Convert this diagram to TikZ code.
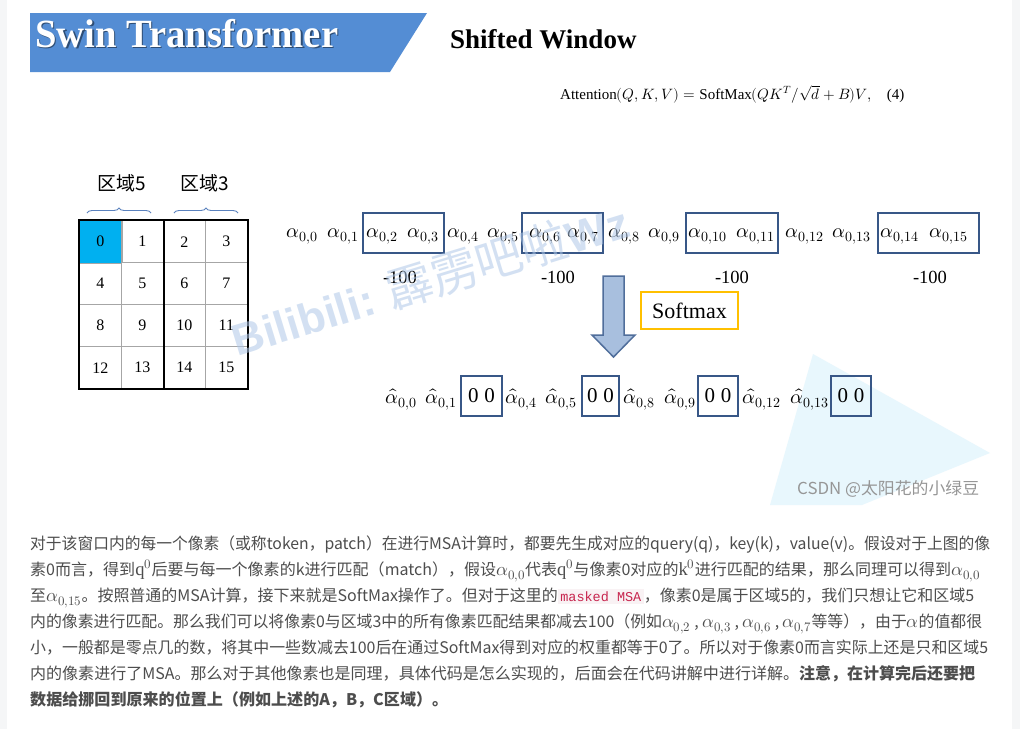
\documentclass[tikz,border=0pt]{standalone}
\usepackage{fontspec}
\usepackage{unicode-math}
\setmainfont{Liberation Serif}
\setmonofont{Liberation Mono}
\setmathfont{latinmodern-math.otf}
\newfontfamily\cjk{Noto Sans CJK SC}
\newfontfamily\arialb{Liberation Sans}
\usetikzlibrary{decorations.pathreplacing}

\definecolor{bannerblue}{RGB}{84,141,212}
\definecolor{cellblue}{RGB}{0,176,240}
\definecolor{gridgray}{RGB}{166,166,166}
\definecolor{boxblue}{RGB}{56,87,135}
\definecolor{arrowfill}{RGB}{168,191,222}
\definecolor{arrowdraw}{RGB}{80,110,155}
\definecolor{softorange}{RGB}{255,192,0}
\definecolor{textgray}{RGB}{77,77,77}
\definecolor{codepink}{RGB}{199,37,78}
\definecolor{codebg}{RGB}{249,242,244}
\definecolor{pagegray}{RGB}{245,246,247}
\definecolor{bracecol}{RGB}{91,130,190}
\definecolor{wmblue}{RGB}{175,200,232}
\definecolor{tricol}{RGB}{232,247,253}
\definecolor{csdngray}{RGB}{150,150,150}

\newsavebox\fitbox
\newlength\fitlen
\newcommand\fitto[2]{%
  \sbox\fitbox{#2}%
  \setlength\fitlen{\wd\fitbox}%
  \pgfmathsetmacro\fitfac{#1/\fitlen}%
  \scalebox{\fitfac}[1]{\usebox\fitbox}}
\newcommand\code[1]{{\setlength\fboxsep{2.5pt}\colorbox{codebg}{\ttfamily\fontsize{13.5}{16}\selectfont\color{codepink}#1}}}
\newcommand\parmath[1]{{\fontsize{18.5}{18}\selectfont$#1$}}

\tikzset{
  al/.style={anchor=base, inner sep=0, font=\fontsize{20}{22}\selectfont},
  abox/.style={draw=boxblue, line width=2, inner sep=0, minimum height=40},
  cell/.style={draw=gridgray, line width=1.3, minimum size=42, inner sep=0, font=\fontsize{16}{18}\selectfont},
  para/.style={anchor=base west, inner sep=0, text=textgray, font=\cjk\fontsize{16}{18}\selectfont},
  minus/.style={anchor=base, inner sep=0, font=\fontsize{18.5}{20}\selectfont},
  region/.style={inner sep=0, font=\cjk\fontsize{19}{21}\selectfont},
  bracestyle/.style={draw=bracecol, line width=0.9, decorate, decoration={brace, amplitude=5}},
  zerobox/.style={abox, font=\fontsize{21}{23}\selectfont},
}

\begin{document}
\begin{tikzpicture}[x=1pt,y=-1pt]
\useasboundingbox (0,0) rectangle (1020,729);
\fill[white] (0,0) rectangle (1020,729);
\fill[pagegray] (0,0) rectangle (7,729);
\fill[pagegray] (1012,0) rectangle (1020,729);

% banner
\fill[bannerblue] (30,13) -- (427,13) -- (390,72) -- (30,72) -- cycle;
\node[anchor=base west, inner sep=0, text=black, opacity=0.45, font=\bfseries\fontsize{40}{44}\selectfont] (titleshadow) at (36.5,48.5) {\fitto{303pt}{Swin Transformer}};
\node[anchor=base west, inner sep=0, text=white, font=\bfseries\fontsize{40}{44}\selectfont] (title) at (35,47) {\fitto{303pt}{Swin Transformer}};
\node[anchor=base west, inner sep=0, font=\bfseries\fontsize{27}{30}\selectfont] (sub) at (450,48) {Shifted Window};
\node[anchor=base west, inner sep=0, font=\fontsize{15}{18}\selectfont] (eq) at (560,99) {Attention$(Q,K,V)=\mathrm{SoftMax}(QK^{T}/\sqrt{d}+B)V,$\quad (4)};

% background triangle
\fill[tricol] (813,354) -- (990,453) -- (862,505) -- (770,505) -- cycle;

% grid
\foreach \r in {0,...,3}{
  \foreach \c in {0,...,3}{
    \pgfmathtruncatemacro\n{\r*4+\c}
    \node[cell] (c\n) at (100.3+42*\c,241.7+42*\r) {\n};
  }
}
\fill[cellblue] (c0.north west) rectangle (c0.south east);
\node[cell, draw=none] at (c0) {0};
\draw[gridgray, line width=1.3] (c0.north east) -- (c0.south east) (c0.south west) -- (c0.south east);
\draw[black, line width=1.8] (c1.north east) -- (c13.south east);
\draw[black, line width=1.8] (c0.north west) rectangle (c15.south east);

\node[region] (r5) at (122,183) {区域5};
\node[region] (r3) at (204.5,183) {区域3};
\draw[bracestyle] (87,213) -- (151,213);
\draw[bracestyle] (174,213) -- (238,213);

% top row
\foreach \x/\s in {302/0,343/1,382/2,423/3,463/4,503/5,545/6,583/7,624/8,664/9,708/10,756/11,805/12,852/13,900/14,949/15}
  \node[al] (a\s) at (\x,237) {$\alpha_{0,\s}$};
\node[abox, minimum width=81] (b1) at (403.5,233) {};
\node[abox, minimum width=81] (b2) at (562.5,233) {};
\node[abox, minimum width=92] (b3) at (732,233) {};
\node[abox, minimum width=101] (b4) at (928.5,233) {};
\foreach \x/\k in {400/1,558/2,732/3,930/4}
  \node[minus] (m\k) at (\x,283) {-100};

% arrow
\draw[arrowdraw, fill=arrowfill, line width=1.5, line join=miter]
  (603,276) -- (624,276) -- (624,335) -- (635,335) -- (613.5,357) -- (592,335) -- (603,335) -- cycle;
\node[draw=softorange, line width=1.5, minimum width=97, minimum height=37, inner sep=0, font=\fontsize{22}{24}\selectfont] (soft) at (689.5,310.5) {Softmax};

% hat row
\foreach \x/\s in {401/0,441/1,521/4,561/5,639/8,680/9,762/12,810/13}
  \node[al] (h\s) at (\x,403) {$\widehat{\alpha}_{0,\s}$};
\node[zerobox, minimum width=41] (z1) at (481.5,396) {0\hspace{6pt}0};
\node[zerobox, minimum width=37] (z2) at (600.5,396) {0\hspace{6pt}0};
\node[zerobox, minimum width=40] (z3) at (718,396) {0\hspace{6pt}0};
\node[zerobox, minimum width=40] (z4) at (851,396) {0\hspace{6pt}0};

% watermarks
\node[rotate=17, text=wmblue, opacity=0.55, inner sep=0, font=\fontsize{44}{48}\selectfont] (wm) at (430,279)
  {{\arialb\bfseries Bilibili:} {\cjk\fontsize{47}{50}\selectfont 霹雳吧啦}{\arialb\bfseries Wz}};
\node[anchor=base west, inner sep=0, text=csdngray, font=\cjk\fontsize{16.5}{18}\selectfont] (csdn) at (797,494) {\fitto{182pt}{CSDN @太阳花的小绿豆}};

% paragraph
\node[para] (l1) at (30,549) {\fitto{960pt}{对于该窗口内的每一个像素（或称token，patch）在进行MSA计算时，都要先生成对应的query(q)，key(k)，value(v)。假设对于上图的像}};
\node[para] (l2) at (30,575) {\fitto{950pt}{素0而言，得到\parmath{\mathrm{q}^0}后要与每一个像素的k进行匹配（match），假设\parmath{\alpha_{0,0}}代表\parmath{\mathrm{q}^0}与像素0对应的\parmath{\mathrm{k}^0}进行匹配的结果，那么同理可以得到\parmath{\alpha_{0,0}}}};
\node[para] (l3) at (30,601) {\fitto{944pt}{至\parmath{\alpha_{0,15}}。按照普通的MSA计算，接下来就是SoftMax操作了。但对于这里的\code{masked MSA}，像素0是属于区域5的，我们只想让它和区域5}};
\node[para] (l4) at (30,627) {\fitto{952pt}{内的像素进行匹配。那么我们可以将像素0与区域3中的所有像素匹配结果都减去100（例如\parmath{\alpha_{0,2}} , \parmath{\alpha_{0,3}} , \parmath{\alpha_{0,6}} , \parmath{\alpha_{0,7}}等等），由于\parmath{\alpha}的值都很}};
\node[para] (l5) at (30,653) {\fitto{958pt}{小，一般都是零点几的数，将其中一些数减去100后在通过SoftMax得到对应的权重都等于0了。所以对于像素0而言实际上还是只和区域5}};
\node[para] (l6) at (30,679) {\fitto{945pt}{内的像素进行了MSA。那么对于其他像素也是同理，具体代码是怎么实现的，后面会在代码讲解中进行详解。{\bfseries 注意，在计算完后还要把}}};
\node[para] (l7) at (30,705) {\fitto{418pt}{\bfseries 数据给挪回到原来的位置上（例如上述的A，B，C区域）。}};
\end{tikzpicture}
\end{document}
